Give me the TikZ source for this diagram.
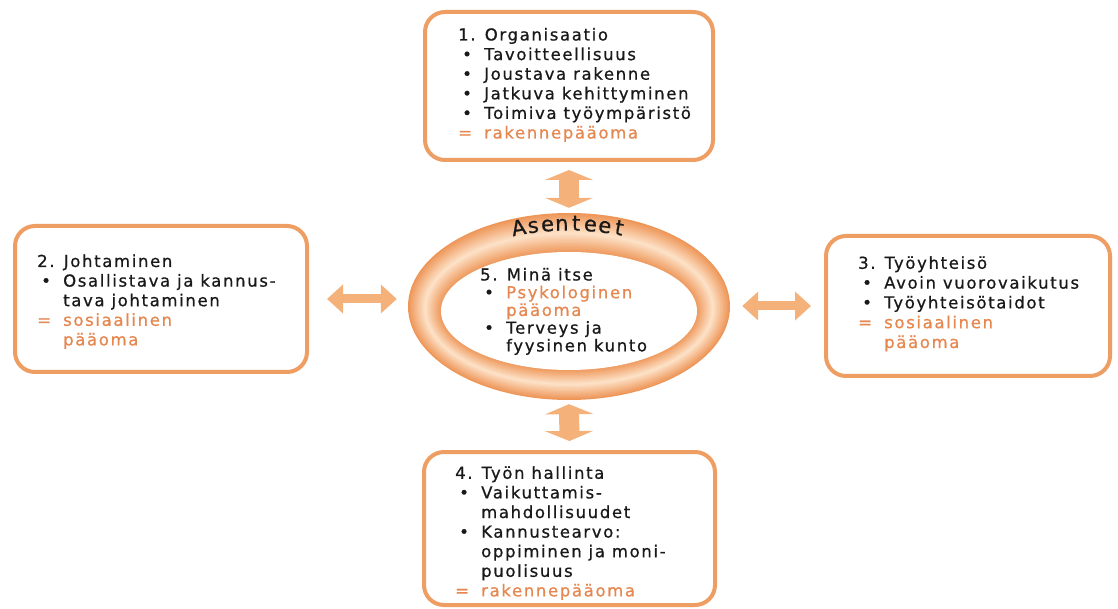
\documentclass[tikz,border=0pt]{standalone}
\usepackage{fontspec}
\setmainfont{DejaVu Sans}[LetterSpace=10,FakeBold=0.7]
\newfontfamily\asf{DejaVu Sans}[FakeBold=0.8]
\usetikzlibrary{shapes.geometric,arrows.meta}
\definecolor{bord}{RGB}{238,158,98}
\definecolor{ort}{RGB}{230,135,80}
\definecolor{ordark}{RGB}{238,150,88}
\definecolor{orlight}{RGB}{253,226,200}
\definecolor{arrc}{RGB}{244,178,122}
\definecolor{txt}{RGB}{25,25,25}
\newcommand\bl[1]{\makebox[26pt][l]{\hspace{4pt}\textbullet}#1}
\newcommand\cn[1]{\hspace*{26pt}#1}
\newcommand\eq[1]{{\color{ort}\makebox[26pt][l]{=}#1}}
\begin{document}
\begin{tikzpicture}[x=1pt,y=1pt,
 box/.style={draw=bord, line width=4pt, rounded corners=20pt, fill=white, inner sep=0},
 txtn/.style={anchor=base west, inner sep=0, text=txt, font=\fontsize{16.5}{19.6}\selectfont},
 varr/.style={arrc, line width=20pt, {Triangle[width=48pt,length=10pt]}-{Triangle[width=48pt,length=10pt]}},
 harr/.style={arrc, line width=9pt, {Triangle[width=28pt,length=16pt]}-{Triangle[width=28pt,length=16pt]}}]
\useasboundingbox (0,0) rectangle (1118,608);
\fill[white] (0,0) rectangle (1118,608);
% boxes
\node[box, minimum width=288pt, minimum height=148pt] (b1) at (569,522) {};
\node[box, minimum width=292pt, minimum height=146pt] (b2) at (161,309) {};
\node[box, minimum width=284pt, minimum height=140pt] (b3) at (968,302) {};
\node[box, minimum width=291pt, minimum height=153pt] (b4) at (569.5,79.5) {};
% ring
\node[ellipse, minimum width=322pt, minimum height=187pt, inner sep=0] (ring) at (569,301.5) {};
\foreach \i in {0,...,24}{
 \pgfmathsetmacro\t{\i/24}
 \pgfmathsetmacro\cy{301.5-4.5*\t}
 \pgfmathsetmacro\rx{161-33*\t}
 \pgfmathsetmacro\ry{93.5-34.5*\t}
 \pgfmathtruncatemacro\p{100*abs(1-2*\t)}
 \fill[ordark!\p!orlight] (569,\cy) ellipse[x radius=\rx, y radius=\ry];
}
\fill[white] (569,297) ellipse[x radius=128, y radius=59];
% Asenteet
\foreach \ch [count=\k] in {A,s,e,n,t,e,e,t}{
 \pgfmathsetmacro\xx{520+14*(\k-1)}
 \pgfmathsetmacro\th{acos((\xx-569)/145)}
 \pgfmathsetmacro\yy{301.5+76*sin(\th)}
 \pgfmathsetmacro\rot{atan2(-76*cos(\th),145*sin(\th))}
 \node[anchor=base, rotate=\rot, inner sep=0, text=txt, font=\asf\fontsize{21}{21}\selectfont] (as\k) at (\xx,\yy) {\ch};
}
% arrows
\draw[varr, shorten <=8pt, shorten >=5pt] (b1.south) -- (ring.north);
\draw[varr, shorten <=4pt, shorten >=9pt] (ring.south) -- (b4.north);
\draw[harr, shorten <=18pt, shorten >=11pt] (b2.east) -- (b2.east -| ring.west);
\draw[harr, shorten <=13pt, shorten >=12pt] (b3.west) -- (b3.west -| ring.east);
% texts
\node[txtn] (t1) at (458,567.5) {\begin{tabular}[t]{@{}l@{}}1. Organisaatio\\
\bl{Tavoitteellisuus}\\ \bl{Joustava rakenne}\\ \bl{Jatkuva kehittyminen}\\
\bl{Toimiva työympäristö}\\ \eq{rakennepääoma}\end{tabular}};
\node[txtn] (t2) at (37,341) {\begin{tabular}[t]{@{}l@{}}2. Johtaminen\\
\bl{Osallistava ja kannus-}\\ \cn{tava johtaminen}\\ \eq{sosiaalinen}\\
\cn{\color{ort}pääoma}\end{tabular}};
\node[txtn, font=\fontsize{16.5}{19.8}\selectfont] (t3) at (858,339.2) {\begin{tabular}[t]{@{}l@{}}3. Työyhteisö\\
\bl{Avoin vuorovaikutus}\\ \bl{Työyhteisötaidot}\\ \eq{sosiaalinen}\\
\cn{\color{ort}pääoma}\end{tabular}};
\node[txtn] (t4) at (455,129.2) {\begin{tabular}[t]{@{}l@{}}4. Työn hallinta\\
\bl{Vaikuttamis-}\\ \cn{mahdollisuudet}\\ \bl{Kannustearvo:}\\
\cn{oppiminen ja moni-}\\ \cn{puolisuus}\\ \eq{rakennepääoma}\end{tabular}};
\node[txtn, font=\fontsize{16.5}{17.3}\selectfont] (t5) at (480,327.5) {\begin{tabular}[t]{@{}l@{}}5. Minä itse\\
\bl{\color{ort}Psykologinen}\\ \cn{\color{ort}pääoma}\\ \bl{Terveys ja}\\
\cn{fyysinen kunto}\end{tabular}};
\end{tikzpicture}
\end{document}
